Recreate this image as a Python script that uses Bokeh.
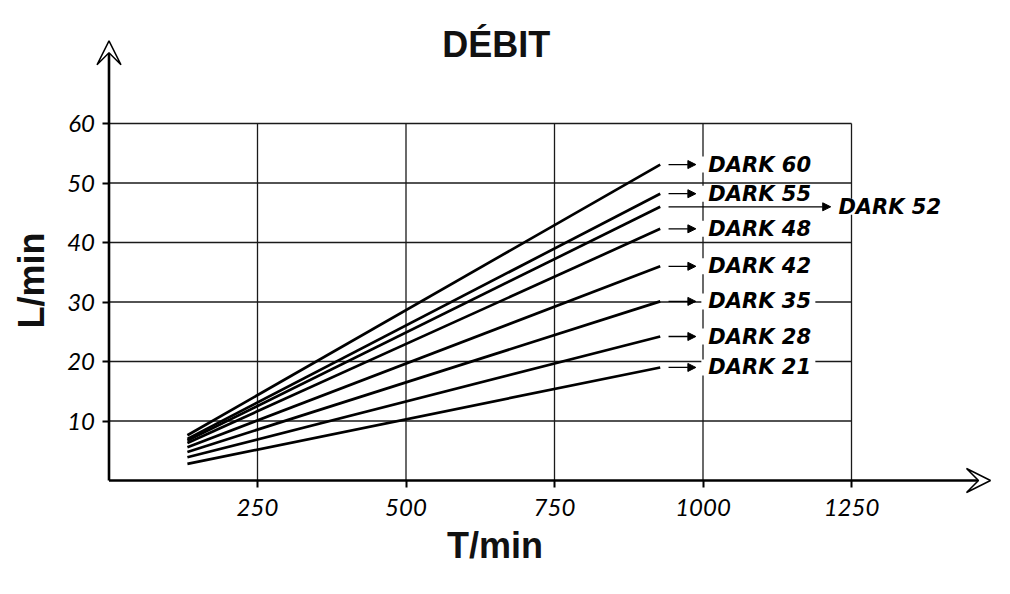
import math
from bokeh.plotting import figure
from bokeh.models import (Range1d, Arrow, VeeHead, NormalHead, Label,
                          ColumnDataSource, FixedTicker)
from bokeh.core.properties import value
from bokeh.embed import file_html
from bokeh.resources import INLINE

# ---- data ----
series = ["DARK 60", "DARK 55", "DARK 52", "DARK 48",
          "DARK 42", "DARK 35", "DARK 28", "DARK 21"]
t_start = 132          # T/min where the curves start
t_end = 928            # T/min where the curves end
l_start = [7.6, 7.0, 6.7, 6.3, 5.6, 4.8, 3.9, 2.8]      # L/min at t_start
l_end = [53.1, 48.2, 46.0, 42.3, 36.0, 30.1, 24.2, 19.0]  # L/min at t_end
x_ticks = [250, 500, 750, 1000, 1250]
y_ticks = [10, 20, 30, 40, 50, 60]
title_text = "DÉBIT"
x_label = "T/min"
y_label = "L/min"
long_arrow_series = "DARK 52"

# ---- layout (frame covers the whole canvas, axes at fixed locations) ----
W, H = 1002, 586
X0_PX, Y0_PX = 108.5, 480.0      # where the origin sits on the canvas
px_x = 148.5 / 250               # pixels per T/min
px_y = 59.5 / 10                 # pixels per L/min
x_rng = Range1d(-X0_PX / px_x, (W - X0_PX) / px_x)
y_rng = Range1d(-(H - Y0_PX) / px_y, Y0_PX / px_y)

p = figure(width=W, height=H, output_backend="svg", toolbar_location=None,
           x_range=x_rng, y_range=y_rng,
           min_border_left=0, min_border_bottom=0,
           min_border_top=0, min_border_right=0)
p.outline_line_color = None
p.background_fill_color = "white"
p.border_fill_color = "white"
p.xgrid.grid_line_color = None
p.ygrid.grid_line_color = None

for ax, ticks in ((p.xaxis[0], x_ticks), (p.yaxis[0], y_ticks)):
    ax.ticker = FixedTicker(ticks=ticks)
    ax.fixed_location = 0
    ax.axis_line_color = None
    ax.major_tick_in = 0
    ax.major_tick_out = 7
    ax.major_tick_line_width = 2
    ax.major_tick_line_color = "black"
    ax.minor_tick_line_color = None
    ax.major_label_text_font = "Lato"
    ax.major_label_text_font_style = "italic"
    ax.major_label_text_font_size = "24px"
    ax.major_label_text_color = "black"
p.xaxis.major_label_standoff = 11
p.yaxis.major_label_standoff = 7

# grid box
gx_top = max(y_ticks)
gx_right = max(x_ticks)
p.segment(x0=[0] * len(y_ticks), y0=y_ticks, x1=[gx_right] * len(y_ticks), y1=y_ticks,
          line_color="#1a1a1a", line_width=1.3)
p.segment(x0=x_ticks, y0=[0] * len(x_ticks), x1=x_ticks, y1=[gx_top] * len(x_ticks),
          line_color="#1a1a1a", line_width=1.3)

# label positions
short_start, short_end, short_label = 942, 988, 1009
long_end, long_label = 1215, 1228
lab_x = [long_label if s == long_arrow_series else short_label for s in series]
arr_end = [long_end if s == long_arrow_series else short_end for s in series]
box_w_px = 114
box_cx = [x + (box_w_px / 2 - 7) / px_x for x in lab_x]

# white boxes behind labels
p.rect(x=box_cx, y=l_end, width=box_w_px, height=16, width_units="screen",
       height_units="screen", fill_color="white", line_color=None)

# data lines
for a, b in zip(l_start, l_end):
    p.line([t_start, t_end], [a, b], line_color="black", line_width=2.7)

# label arrows
src = ColumnDataSource(dict(x0=[short_start] * len(series), y0=l_end,
                            x1=arr_end, y1=l_end))
p.add_layout(Arrow(source=src, x_start="x0", y_start="y0", x_end="x1", y_end="y1",
                   line_width=1.3, line_color="black",
                   end=NormalHead(size=8, fill_color="black", line_color="black")))

p.text(x=lab_x, y=l_end, text=series, text_font=value("DejaVu Sans"),
       text_font_style="bold italic", text_font_size="21px",
       text_baseline="middle", text_align="left", text_color="black")

# axes with arrows
p.add_layout(Arrow(x_start=0, y_start=0, x_end=1484, y_end=0, line_width=2.6,
                   line_color="black",
                   end=VeeHead(size=24, fill_color="white", line_color="black",
                               line_width=1.5)))
p.add_layout(Arrow(x_start=0, y_start=0, x_end=0, y_end=73.9, line_width=2.6,
                   line_color="black",
                   end=VeeHead(size=24, fill_color="white", line_color="black",
                               line_width=1.5)))

# titles
p.add_layout(Label(x=652, y=73.3, text=title_text, text_font="Liberation Sans",
                   text_font_style="bold", text_font_size="36px",
                   text_align="center", text_baseline="middle", text_color="#111"))
p.add_layout(Label(x=650, y=-10.9, text=x_label, text_font="Liberation Sans",
                   text_font_style="bold", text_font_size="36px",
                   text_align="center", text_baseline="middle", text_color="#111"))
p.add_layout(Label(x=-130, y=33.6, text=y_label, text_font="Liberation Sans",
                   text_font_style="bold", text_font_size="36px", angle=math.pi / 2,
                   text_align="center", text_baseline="middle", text_color="#111"))

open("out.html", "w").write(file_html(p, INLINE))
